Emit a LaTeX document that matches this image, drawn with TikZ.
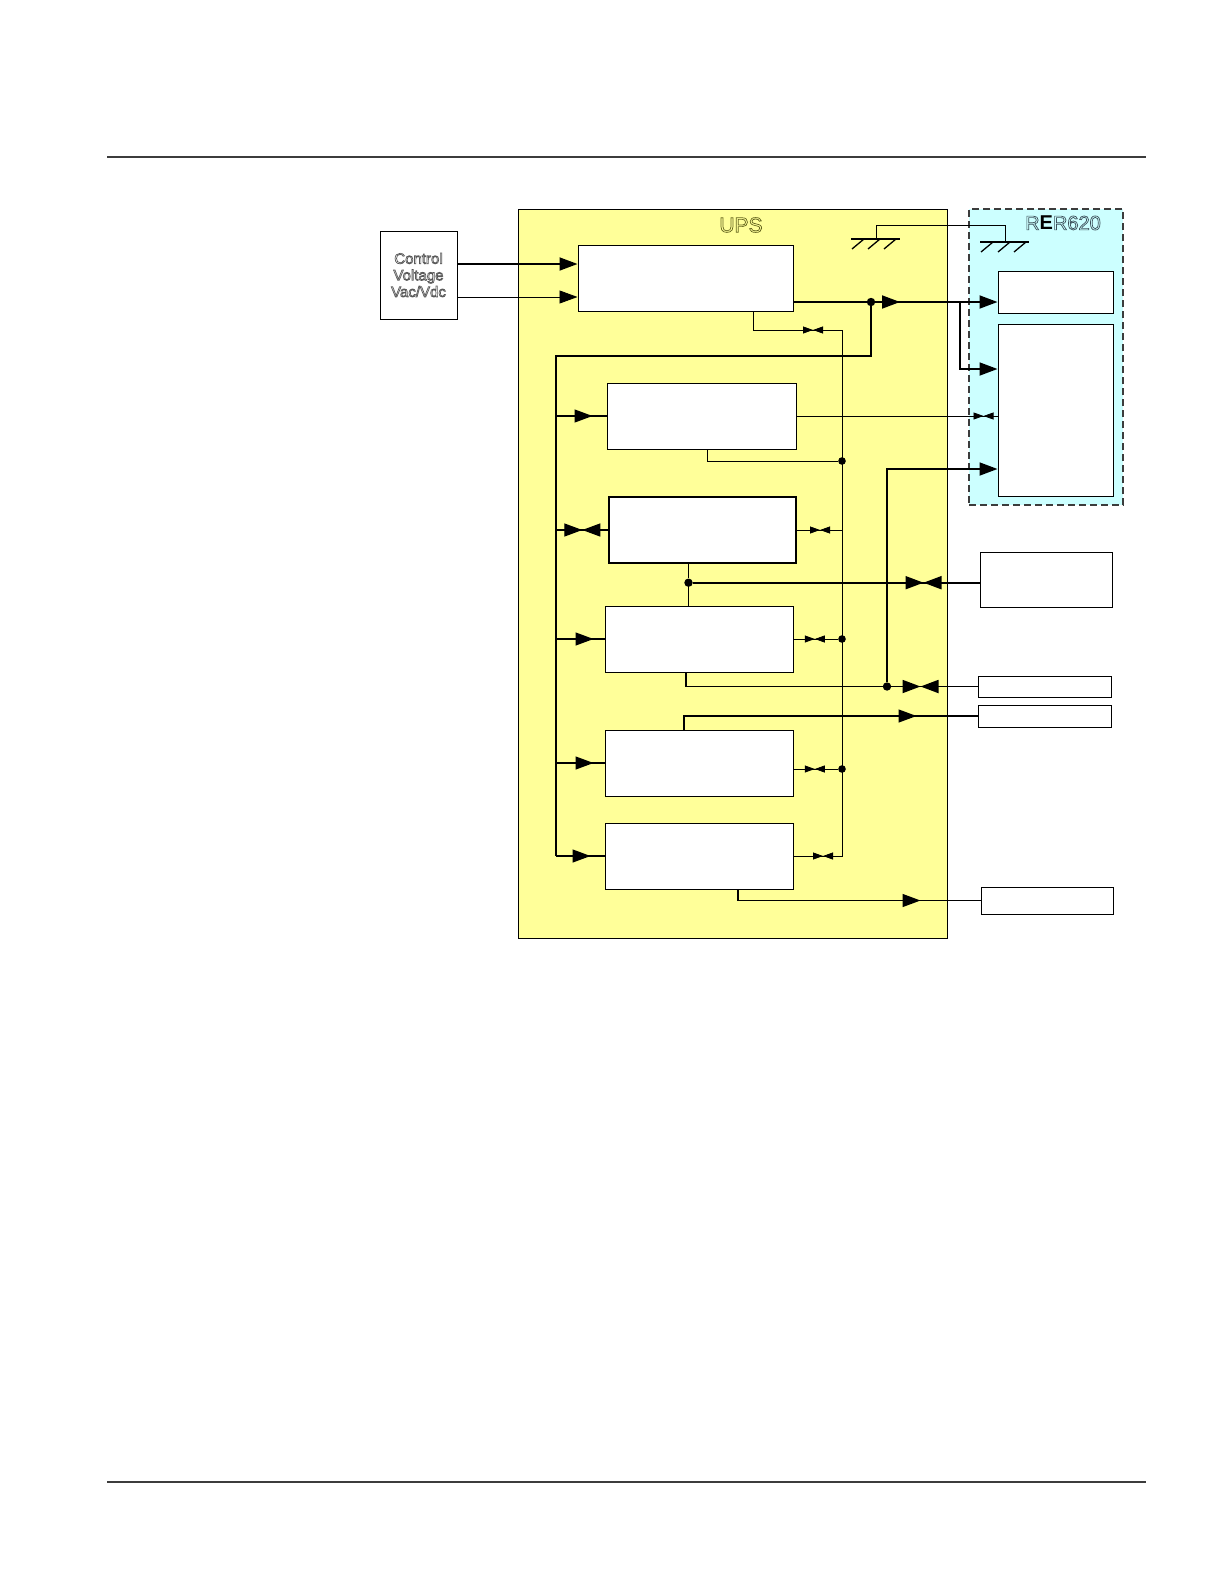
\documentclass[tikz,border=0pt]{standalone}
\usepackage{fontspec}
\setmainfont{Liberation Sans}
\usetikzlibrary{arrows.meta,decorations.markings,fit}

\definecolor{upsfill}{RGB}{255,255,153}
\definecolor{rerfill}{RGB}{204,255,255}
\definecolor{rulegray}{RGB}{60,60,60}
\definecolor{upsink}{RGB}{100,100,30}
\definecolor{rerink}{RGB}{60,80,90}

% outlined (hollow) lettering
\newcommand\hollowtext[2]{\special{pdf:literal direct 1 Tr 0.35 w}\textcolor{#1}{#2}\special{pdf:literal direct 0 Tr 0.4 w}}

\tikzset{
  blk/.style={draw, fill=white, line width=0.5pt, inner sep=0pt},
  thinwire/.style={line width=0.4pt},
  midwire/.style={line width=0.65pt},
  fatwire/.style={line width=0.9pt},
  bigtip/.tip={Triangle[length=9pt,width=6.5pt]},
  smalltip/.tip={Triangle[length=5pt,width=3.5pt]},
  tipat/.style={postaction=decorate, decoration={markings,
      mark=at position #1 with {\arrow{bigtip}}}},
  tieat/.style={postaction=decorate, decoration={markings,
      mark=at position #1 with {\arrow{smalltip}\arrowreversed{smalltip}}}},
  bigtieat/.style={postaction=decorate, decoration={markings,
      mark=at position #1 with {\arrow{bigtip}\arrowreversed{bigtip}}}},
  joint/.style={circle, fill, inner sep=0pt, minimum size=3.8pt},
}

\begin{document}
\begin{tikzpicture}[x=0.5pt,y=-0.5pt]
  \useasboundingbox (0,0) rectangle (1224,1584);

  % page rules
  \draw[rulegray, line width=0.6pt] (107,157) -- (1146,157);
  \draw[rulegray, line width=0.6pt] (107,1482) -- (1146,1482);

  % enclosures
  \node[draw, fill=upsfill, line width=0.5pt, inner sep=0pt, fit={(518,209) (947,938)}] (ups) {};
  \node[draw=rulegray, fill=rerfill, dashed, dash pattern=on 3.5pt off 2pt, line width=0.6pt,
        inner sep=0pt, fit={(969,209) (1123,505)}] (rer) {};

  % blocks
  \node[blk, fit={(380,231) (457,319)}] (ctrl) {};
  \node[blk, fit={(578,245) (793,311)}] (A) {};
  \node[blk, fit={(607,383) (796,449)}] (B) {};
  \node[blk, line width=0.7pt, fit={(609,497) (796,563)}] (C) {};
  \node[blk, fit={(605,606) (793,672)}] (D) {};
  \node[blk, fit={(605,730) (793,796)}] (E) {};
  \node[blk, fit={(605,823) (793,889)}] (F) {};
  \node[blk, fit={(998,271) (1113,313)}] (r1) {};
  \node[blk, fit={(998,324) (1113,496)}] (r2) {};
  \node[blk, fit={(980,552) (1112,607)}] (x1) {};
  \node[blk, fit={(978,676) (1111,697)}] (x2) {};
  \node[blk, fit={(978,705) (1111,727)}] (x3) {};
  \node[blk, fit={(981,887) (1113,914)}] (x4) {};

  % control voltage in
  \draw[fatwire, -bigtip] (ctrl.east |- 0,264) -- (A.west |- 0,264);
  \draw[thinwire, -bigtip] (ctrl.east |- 0,297) -- (A.west |- 0,297);

  % supply out
  \coordinate (tap) at (871,302);
  \coordinate (fork) at (960,302);
  \coordinate (bus) at (556,356);
  \draw[fatwire] (A.east |- tap) -- (tap);
  \draw[fatwire, -bigtip, tipat=14.5pt] (tap) -- (r1.west |- tap);
  \draw[fatwire, -bigtip] (fork) |- ([yshift=20.5pt]r2.west);
  \draw[midwire] (tap) |- (bus) -- (bus |- F.west);
  \node[joint, minimum size=4.2pt] at (tap) {};

  % bus feeds
  \draw[midwire, tipat=-7pt] (bus |- B.west) -- (B.west);
  \draw[midwire, bigtieat=-13pt] (bus |- C.west) -- (C.west);
  \draw[midwire, tipat=-5.5pt] (bus |- D.west) -- (D.west);
  \draw[midwire, tipat=-5.5pt] (bus |- E.west) -- (E.west);
  \draw[midwire, tipat=-7pt] (bus |- F.west) -- (F.west);

  % signal rail
  \coordinate (railtop) at (842,330);
  \draw[thinwire, tieat=-14.5pt] ([xshift=34pt]A.south) |- (railtop);
  \draw[thinwire, tieat=-14.75pt] (railtop) |- (F.east);
  \node[joint] (jb) at (842,461) {};
  \node[joint] (jd) at (D.east -| railtop) {};
  \node[joint] (je) at ([yshift=-3pt]E.east -| railtop) {};
  \draw[thinwire] ([xshift=3pt]B.south) |- (jb);
  \draw[thinwire, tieat=-7pt] (B.east) -- (B.east -| r2.west);
  \draw[thinwire, tieat=-11pt] (C.east) -- (C.east -| railtop);
  \draw[thinwire, tieat=-11.5pt] (D.east) -- (jd);
  \draw[thinwire, tieat=-11.5pt] ([yshift=-3pt]E.east) -- (je);

  % links to the outside
  \node[joint, minimum size=4.2pt] (jc) at ([xshift=-7pt,yshift=-9.5pt]C.south) {};
  \draw[fatwire] ([xshift=-7pt]C.south) -- (jc);
  \draw[thinwire] (jc) -- (jc |- D.north);
  \draw[fatwire, bigtieat=-28pt] (jc) -- (jc -| x1.west);
  \draw[fatwire, bigtieat=-28.5pt] ([xshift=-6.5pt]D.south) |- (x2.west);
  \node[joint, minimum size=4.2pt] (jh) at (887,0 |- x2.west) {};
  \draw[fatwire, -bigtip] (jh) |- ([yshift=-29.5pt]r2.west);
  \draw[midwire, tipat=-30.5pt] ([xshift=-7.5pt]E.north) |- (x3.west);
  \draw[midwire, tipat=-30pt] ([xshift=19.5pt]F.south) |- (x4.west);

  % earthing
  \draw[midwire] (851,239) -- (900,239);
  \foreach \gx in {864,880,896} \draw[midwire] (\gx,239) -- ++(-12,10);
  \draw[thinwire] (876,239) |- (1005,225) -- (1005,242);
  \draw[midwire] (980,242) -- (1029,242);
  \foreach \gx in {993,1010,1026} \draw[midwire] (\gx,242) -- ++(-12,10);

  % lettering
  \node[font=\fontsize{7.5}{8.3}\selectfont, align=center] at (ctrl.center)
    {\hollowtext{black!65}{Control}\\\hollowtext{black!65}{Voltage}\\\hollowtext{black!65}{Vac/Vdc}};
  \node[font=\fontsize{10.5}{12}\selectfont] at (741,225) {\hollowtext{upsink}{UPS}};
  \node[font=\fontsize{10}{12}\selectfont] at (1063,223)
    {\hollowtext{rerink}{R}\textbf{E}\hollowtext{rerink}{R620}};
\end{tikzpicture}
\end{document}
